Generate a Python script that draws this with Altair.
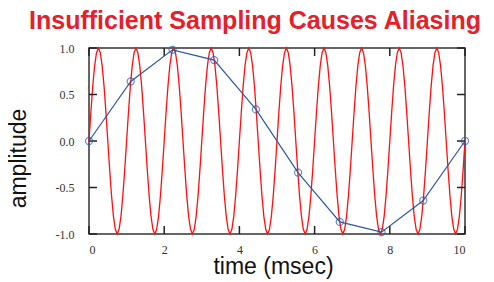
import altair as alt
import pandas as pd

# Continuous signal (1 kHz sine), sampled every 0.05 msec
red_amp = [
    0.00, 0.31, 0.59, 0.81, 0.95, 1.00, 0.95, 0.81, 0.59, 0.31, 0.00, -0.31, -0.59, -0.81, -0.95, -1.00, -0.95, -0.81, -0.59, -0.31,
    0.00, 0.31, 0.59, 0.81, 0.95, 1.00, 0.95, 0.81, 0.59, 0.31, 0.00, -0.31, -0.59, -0.81, -0.95, -1.00, -0.95, -0.81, -0.59, -0.31,
    0.00, 0.31, 0.59, 0.81, 0.95, 1.00, 0.95, 0.81, 0.59, 0.31, 0.00, -0.31, -0.59, -0.81, -0.95, -1.00, -0.95, -0.81, -0.59, -0.31,
    0.00, 0.31, 0.59, 0.81, 0.95, 1.00, 0.95, 0.81, 0.59, 0.31, 0.00, -0.31, -0.59, -0.81, -0.95, -1.00, -0.95, -0.81, -0.59, -0.31,
    0.00, 0.31, 0.59, 0.81, 0.95, 1.00, 0.95, 0.81, 0.59, 0.31, 0.00, -0.31, -0.59, -0.81, -0.95, -1.00, -0.95, -0.81, -0.59, -0.31,
    0.00, 0.31, 0.59, 0.81, 0.95, 1.00, 0.95, 0.81, 0.59, 0.31, 0.00, -0.31, -0.59, -0.81, -0.95, -1.00, -0.95, -0.81, -0.59, -0.31,
    0.00, 0.31, 0.59, 0.81, 0.95, 1.00, 0.95, 0.81, 0.59, 0.31, 0.00, -0.31, -0.59, -0.81, -0.95, -1.00, -0.95, -0.81, -0.59, -0.31,
    0.00, 0.31, 0.59, 0.81, 0.95, 1.00, 0.95, 0.81, 0.59, 0.31, 0.00, -0.31, -0.59, -0.81, -0.95, -1.00, -0.95, -0.81, -0.59, -0.31,
    0.00, 0.31, 0.59, 0.81, 0.95, 1.00, 0.95, 0.81, 0.59, 0.31, 0.00, -0.31, -0.59, -0.81, -0.95, -1.00, -0.95, -0.81, -0.59, -0.31,
    0.00, 0.31, 0.59, 0.81, 0.95, 1.00, 0.95, 0.81, 0.59, 0.31, 0.00, -0.31, -0.59, -0.81, -0.95, -1.00, -0.95, -0.81, -0.59, -0.31,
    0.00,
]
red_step = 0.05
red_time = [round(i * red_step, 2) for i in range(len(red_amp))]

# Samples (blue)
sample_time = [0.0, 1.11, 2.22, 3.33, 4.44, 5.56, 6.67, 7.78, 8.89, 10.0]
sample_amp = [0.0, 0.64, 0.98, 0.87, 0.34, -0.34, -0.87, -0.98, -0.64, 0.0]

# Tick values
x_ticks = [0, 2, 4, 6, 8, 10]
y_ticks = [-1.0, -0.5, 0.0, 0.5, 1.0]

title_text = ["Insufficient Sampling Causes Aliasing"]

red_df = pd.DataFrame({"t": red_time, "a": red_amp})
samp_df = pd.DataFrame({"t": sample_time, "a": sample_amp})
xt_df = pd.DataFrame({"t": x_ticks})
yt_df = pd.DataFrame({"a": y_ticks})
title_df = pd.DataFrame({"label": title_text})

W, H = 376, 186
TICK = 8

xscale = alt.Scale(domain=[0, 10], nice=False, zero=False)
yscale = alt.Scale(domain=[-1, 1], nice=False, zero=False)

x_axis = alt.Axis(
    values=x_ticks, format="d", title="time (msec)", grid=False, domain=False,
    ticks=False, labelFont="Liberation Serif", labelFontSize=12, labelColor="#333",
    labelPadding=10, titleFont="Liberation Sans", titleFontSize=23,
    titleFontWeight="normal", titleColor="#111", titleBaseline="alphabetic",
    titleX=184, titleY=39, titleAnchor="start", titleAlign="center",
)
y_axis = alt.Axis(
    values=y_ticks, title="amplitude", grid=False, domain=False, ticks=False,
    labelExpr="datum.value < 0 ? '-' + format(-datum.value, '.1f') : format(datum.value, '.1f')",
    labelFont="Liberation Serif", labelFontSize=12, labelColor="#333",
    labelPadding=15, titleFont="Liberation Sans", titleFontSize=23,
    titleFontWeight="normal", titleColor="#111", titleAngle=270,
    titleBaseline="alphabetic", titleAlign="center", titleX=-64, titleY=110,
    titleAnchor="start",
)

red = alt.Chart(red_df).mark_line(color="#ff1010", strokeWidth=1.3).encode(
    x=alt.X("t:Q", scale=xscale, axis=x_axis),
    y=alt.Y("a:Q", scale=yscale, axis=y_axis),
)

blue_line = alt.Chart(samp_df).mark_line(color="#2a58a8", strokeWidth=1.2).encode(
    x=alt.X("t:Q", scale=xscale),
    y=alt.Y("a:Q", scale=yscale),
)
blue_pts = alt.Chart(samp_df).mark_point(
    shape="circle", filled=False, color="#2a58a8", size=50, strokeWidth=1.2
).encode(
    x=alt.X("t:Q", scale=xscale),
    y=alt.Y("a:Q", scale=yscale),
)

tick_color = "#222"
left_ticks = alt.Chart(yt_df).mark_rule(color=tick_color, strokeWidth=1.5).encode(
    y=alt.Y("a:Q", scale=yscale), x=alt.value(0), x2=alt.value(TICK)
)
right_ticks = alt.Chart(yt_df).mark_rule(color=tick_color, strokeWidth=1.5).encode(
    y=alt.Y("a:Q", scale=yscale), x=alt.value(W - TICK), x2=alt.value(W)
)
bottom_ticks = alt.Chart(xt_df).mark_rule(color=tick_color, strokeWidth=1.5).encode(
    x=alt.X("t:Q", scale=xscale), y=alt.value(H - TICK), y2=alt.value(H)
)
top_ticks = alt.Chart(xt_df).mark_rule(color=tick_color, strokeWidth=1.5).encode(
    x=alt.X("t:Q", scale=xscale), y=alt.value(0), y2=alt.value(TICK)
)

title = alt.Chart(title_df).mark_text(
    font="Liberation Sans", fontSize=25, fontWeight="bold", color="#e5202a",
    align="center", baseline="alphabetic",
).encode(
    text="label:N", x=alt.value(166), y=alt.value(-19)
)

chart = alt.layer(
    red, left_ticks, right_ticks, bottom_ticks, top_ticks, blue_line, blue_pts, title
).properties(
    width=W,
    height=H,
    autosize=alt.AutoSizeParams(type="none"),
    padding={"left": 81, "top": 40, "right": 21, "bottom": 48},
).configure_view(
    stroke="#333", strokeWidth=1.5
)

chart.save("out.html", embed_options={"renderer": "svg", "actions": False})
